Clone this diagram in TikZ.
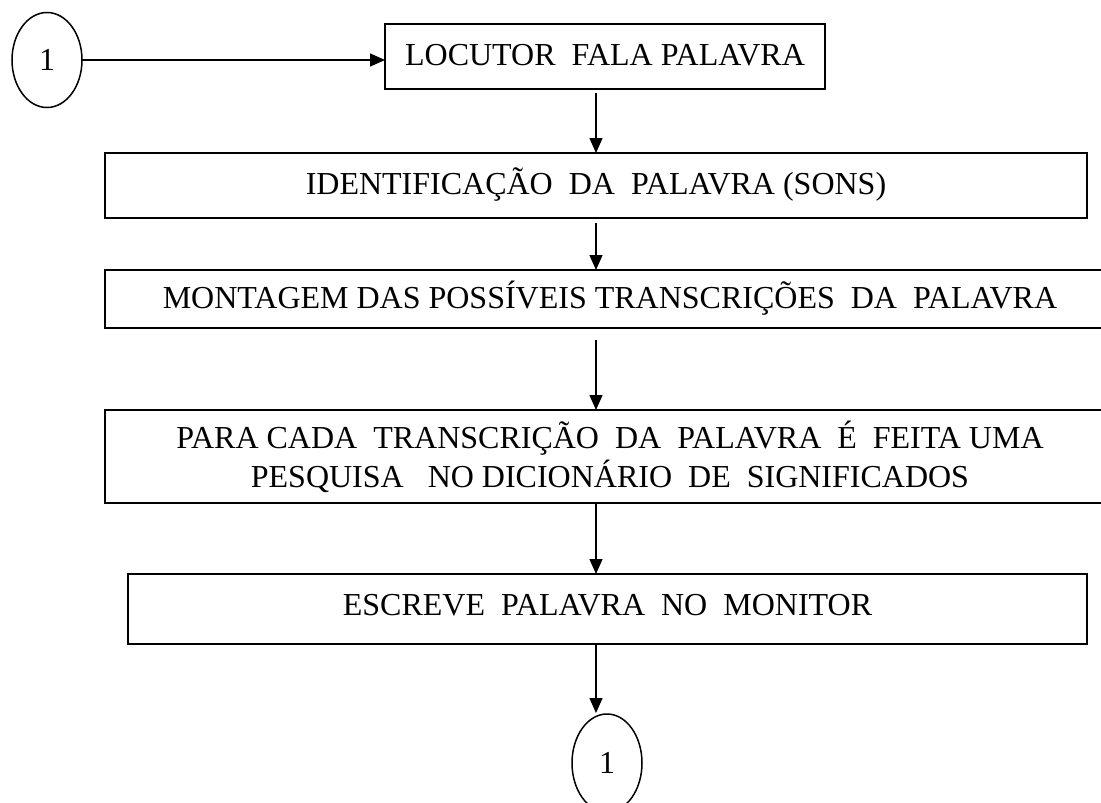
\documentclass[tikz,border=0pt]{standalone}
\usepackage{fontspec}
\setmainfont{Liberation Serif}
\usetikzlibrary{arrows.meta,shapes.geometric}
\begin{document}
\begin{tikzpicture}[x=1pt,y=-1pt,
  every node/.style={font=\fontsize{32}{39}\selectfont, inner sep=0pt, outer sep=0pt},
  procbox/.style={draw, line width=1.8pt, rectangle, text height=21pt, text depth=3pt},
  conn/.style={draw, ellipse, line width=1.5pt, minimum width=70pt, minimum height=95pt, text height=21pt, text depth=0pt},
  flow/.style={line width=1.4pt, -{Triangle[length=15pt,width=13pt]}}
]
\useasboundingbox (0,0) rectangle (1101,803);
\clip (0,0) rectangle (1101,803);
\node[conn] (e1) at (47,60) {1};
\node[procbox, minimum width=440pt, minimum height=65pt] (b1) at (605,56.5) {LOCUTOR\ \ FALA PALAVRA};
\node[procbox, minimum width=982pt, minimum height=65pt] (b2) at (596,185.5) {IDENTIFICAÇÃO\ \ DA\ \ PALAVRA (SONS)};
\node[procbox, minimum width=1010pt, minimum height=58pt] (b3) at (610,299) {MONTAGEM DAS POSSÍVEIS TRANSCRIÇÕES\ \ DA\ \ PALAVRA};
\node[draw, line width=1.8pt, rectangle, align=center, minimum width=1010pt, minimum height=93pt] (b4) at (610,456.5) {PARA CADA\ \ TRANSCRIÇÃO\ \ DA\ \ PALAVRA\ \ É\ \ FEITA UMA\\PESQUISA\ \ \ NO DICIONÁRIO\ \ DE\ \ SIGNIFICADOS};
\node[procbox, minimum width=959pt, minimum height=70pt, text depth=8pt] (b5) at (607.5,609) {ESCREVE\ \ PALAVRA\ \ NO\ \ MONITOR};
\node[conn, minimum height=98pt] (e2) at (607,763) {1};
\coordinate (col) at (596,0);
\draw[flow] (e1.east) -- (b1.west |- e1.east);
\draw[flow] ([yshift=-4pt]b1.south -| col) -- (b2.north -| col);
\draw[flow] ([yshift=-5pt]b2.south -| col) -- (b3.north -| col);
\draw[flow] ([yshift=-12pt]b3.south -| col) -- (b4.north -| col);
\draw[flow] (b4.south -| col) -- (b5.north -| col);
\draw[flow] (b5.south -| col) -- ([yshift=1pt]e2.north -| col);
\end{tikzpicture}
\end{document}
